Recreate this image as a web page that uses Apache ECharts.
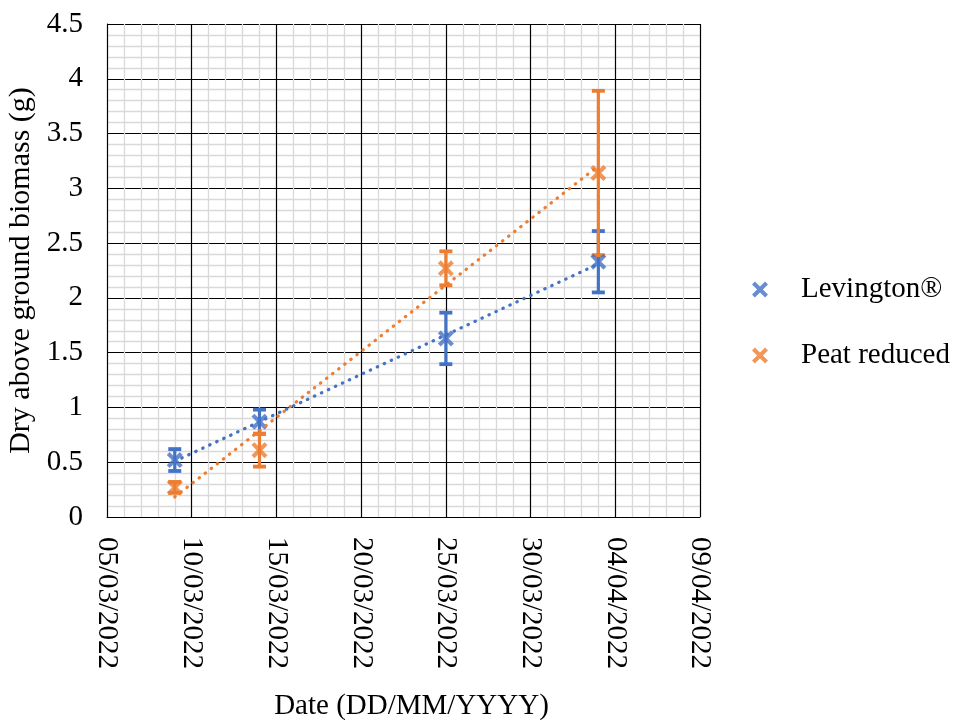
<!DOCTYPE html>
<html>
<head>
<meta charset="utf-8">
<script src="https://cdn.jsdelivr.net/npm/echarts@6/dist/echarts.min.js"></script>
<style>html,body{margin:0;padding:0;background:#fff;}#c{width:954px;height:720px;}</style>
</head>
<body>
<div id="c"></div>
<script>
// ---- data ----
const axisStartDate = '05/03/2022';
const axisEndDate = '09/04/2022';
const sampleDates = ['09/03/2022', '14/03/2022', '25/03/2022', '03/04/2022'];
const seriesNames = ['Levington®', 'Peat reduced'];
const levingtonMean = [0.52, 0.87, 1.63, 2.33];
const levingtonErr = [0.10, 0.11, 0.235, 0.28];
const peatMean = [0.27, 0.61, 2.27, 3.14];
const peatErr = [0.05, 0.15, 0.155, 0.75];
const yTicks = { min: 0, max: 4.5, interval: 0.5 };

const FONT = '"Liberation Serif", "Times New Roman", serif';
const BLUE = '#4472C4';
const ORANGE = '#ED7D31';
const X_PATH = 'path://M0,1.8 L1.8,0 L5,3.2 L8.2,0 L10,1.8 L6.8,5 L10,8.2 L8.2,10 L5,6.8 L1.8,10 L0,8.2 L3.2,5 Z';

function parseDMY(s) { const [d, m, y] = s.split('/').map(Number); return Date.UTC(y, m - 1, d); }
const DAY = 86400000;
const t0 = parseDMY(axisStartDate);
function dayOffset(s) { return Math.round((parseDMY(s) - t0) / DAY); }
function fmt(v) {
  const dt = new Date(t0 + v * DAY);
  const p = n => String(n).padStart(2, '0');
  return p(dt.getUTCDate()) + '/' + p(dt.getUTCMonth() + 1) + '/' + dt.getUTCFullYear();
}
const xs = sampleDates.map(dayOffset);
const xMax = dayOffset(axisEndDate);

function linFit(x, y) {
  const n = x.length;
  const mx = x.reduce((a, b) => a + b, 0) / n, my = y.reduce((a, b) => a + b, 0) / n;
  let sxy = 0, sxx = 0;
  for (let i = 0; i < n; i++) { sxy += (x[i] - mx) * (y[i] - my); sxx += (x[i] - mx) ** 2; }
  const b = sxy / sxx, a = my - b * mx;
  const x1 = Math.min(...x), x2 = Math.max(...x);
  return [[x1, a + b * x1], [x2, a + b * x2]];
}

function errRender(color) {
  return function (params, api) {
    const x = api.value(0), lo = api.value(1), hi = api.value(2);
    const pLo = api.coord([x, lo]), pHi = api.coord([x, hi]);
    const cw = 6.5;
    const st = { stroke: color, lineWidth: 3.2 };
    return {
      type: 'group',
      children: [
        { type: 'line', shape: { x1: pLo[0], y1: pLo[1], x2: pHi[0], y2: pHi[1] }, style: st },
        { type: 'line', shape: { x1: pHi[0] - cw, y1: pHi[1], x2: pHi[0] + cw, y2: pHi[1] }, style: { stroke: color, lineWidth: 3.8 } },
        { type: 'line', shape: { x1: pLo[0] - cw, y1: pLo[1], x2: pLo[0] + cw, y2: pLo[1] }, style: { stroke: color, lineWidth: 3.8 } }
      ]
    };
  };
}

function buildSeries(name, mean, err, color) {
  const pts = xs.map((x, i) => [x, mean[i]]);
  const errData = xs.map((x, i) => [x, mean[i] - err[i], mean[i] + err[i]]);
  return [
    {
      name: name + ' trend', type: 'line', data: linFit(xs, mean), showSymbol: false, symbol: 'none',
      lineStyle: { color: color, width: 3.2, type: [0.5, 7.2], cap: 'round' }, silent: true
    },
    {
      name: name + ' error', type: 'custom', data: errData, renderItem: errRender(color),
      encode: { x: 0, y: [1, 2] }, silent: true
    },
    {
      name: name, type: 'scatter', data: pts, symbol: X_PATH, symbolSize: 16,
      itemStyle: { color: color }
    }
  ];
}

const chart = echarts.init(document.getElementById('c'), null, { renderer: 'canvas' });
chart.setOption({
  animation: false,
  backgroundColor: '#fff',
  textStyle: { fontFamily: FONT },
  grid: { left: 107, right: 254, top: 24, bottom: 203, containLabel: false, outerBoundsMode: 'none' },
  legend: {
    data: seriesNames,
    orient: 'vertical',
    left: 747, top: 270,
    itemWidth: 16, itemHeight: 16, itemGap: 37,
    icon: X_PATH,
    textStyle: { fontFamily: FONT, fontSize: 29, color: '#000', padding: [0, 0, 0, 28] }
  },
  xAxis: {
    type: 'value', min: 0, max: xMax, interval: 5,
    name: 'Date (DD/MM/YYYY)', nameLocation: 'middle', nameGap: 175,
    nameTextStyle: { fontFamily: FONT, fontSize: 29, color: '#000', padding: [0, 0, 0, 16] },
    axisLine: { show: true, lineStyle: { color: '#000', width: 1 } },
    axisTick: { show: false },
    minorTick: { show: false, splitNumber: 5 },
    axisLabel: { rotate: -90, margin: 20, fontFamily: FONT, fontSize: 29, color: '#000', formatter: fmt },
    splitLine: { show: true, lineStyle: { color: '#000', width: 1.2 } },
    minorSplitLine: { show: true, lineStyle: { color: '#d9d9d9', width: 1.3 } }
  },
  yAxis: {
    type: 'value', min: yTicks.min, max: yTicks.max, interval: yTicks.interval,
    name: 'Dry above ground biomass (g)', nameLocation: 'middle', nameGap: 68,
    nameTextStyle: { fontFamily: FONT, fontSize: 30, color: '#000' },
    axisLine: { show: true, lineStyle: { color: '#000', width: 1 } },
    axisTick: { show: false },
    minorTick: { show: false, splitNumber: 5 },
    axisLabel: { margin: 24, fontFamily: FONT, fontSize: 29, color: '#000' },
    splitLine: { show: true, lineStyle: { color: '#000', width: 1.2 } },
    minorSplitLine: { show: true, lineStyle: { color: '#d9d9d9', width: 1.3 } }
  },
  series: [
    ...buildSeries(seriesNames[0], levingtonMean, levingtonErr, BLUE),
    ...buildSeries(seriesNames[1], peatMean, peatErr, ORANGE)
  ]
});
</script>
</body>
</html>
